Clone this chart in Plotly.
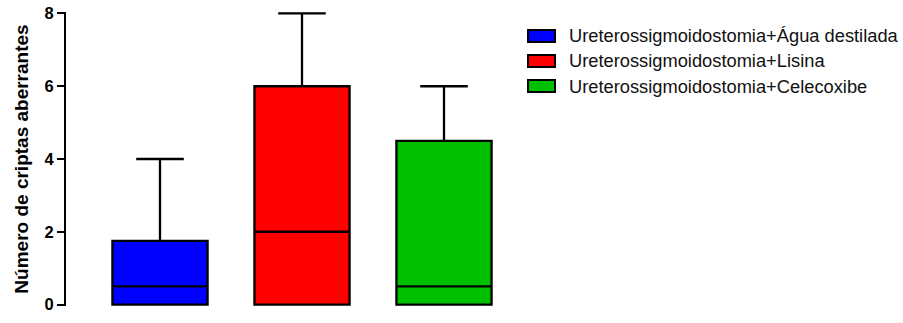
import plotly.graph_objects as go

# Summary statistics per treatment group (number of aberrant crypts)
groups = [
    "Ureterossigmoidostomia+Água destilada",
    "Ureterossigmoidostomia+Lisina",
    "Ureterossigmoidostomia+Celecoxibe",
]
positions = [0, 1, 2]
minimum = [0, 0, 0]
q1 = [0, 0, 0]
median = [0.5, 2, 0.5]
q3 = [1.75, 6, 4.5]
maximum = [4, 8, 6]
colors = ["#0000FF", "#FF0000", "#00C000"]
y_ticks = [0, 2, 4, 6, 8]

W, H = 903, 323
L, R, T, B = 66, 383, 12, 17
PW, PH = W - L - R, H - T - B
FONT = "Arial, Liberation Sans, sans-serif"


def px_x(p):
    return (p - L) / PW


def px_y(p):
    return 1 - (p - T) / PH


fig = go.Figure()
for i, name in enumerate(groups):
    fig.add_trace(go.Box(
        x=[positions[i]],
        q1=[q1[i]],
        median=[median[i]],
        q3=[q3[i]],
        lowerfence=[minimum[i]],
        upperfence=[maximum[i]],
        name=name,
        fillcolor=colors[i],
        line=dict(color="black", width=2.3),
        width=0.67,
        whiskerwidth=0.5,
        showlegend=False,
        hoverinfo="skip",
    ))

# Legend drawn as swatches and labels to the right of the plot
shapes = []
annotations = []
row_y = [36, 61, 86]
for i, name in enumerate(groups):
    cy = row_y[i]
    shapes.append(dict(
        type="rect", xref="paper", yref="paper",
        x0=px_x(528), x1=px_x(555), y0=px_y(cy + 6), y1=px_y(cy - 6),
        fillcolor=colors[i], line=dict(color="black", width=2),
    ))
    annotations.append(dict(
        text=name, xref="paper", yref="paper",
        x=px_x(567), y=px_y(cy), xanchor="left", yanchor="middle",
        showarrow=False, font=dict(family=FONT, size=18.3, color="#111"),
    ))

fig.update_layout(
    width=W, height=H,
    margin=dict(l=L, r=R, t=T, b=B),
    plot_bgcolor="white", paper_bgcolor="white",
    boxmode="overlay",
    shapes=shapes,
    annotations=annotations,
    xaxis=dict(
        range=[-(160 - L) / 142, (W - R - 160) / 142],
        showline=False, showgrid=False, zeroline=False,
        showticklabels=False, ticks="",
    ),
    yaxis=dict(
        range=[-0.04, 8.04],
        tickvals=y_ticks,
        ticktext=[str(v) for v in y_ticks],
        ticks="outside", ticklen=7, tickwidth=2, tickcolor="black",
        showline=True, linewidth=2, linecolor="black",
        showgrid=False, zeroline=False,
        tickfont=dict(family=FONT, size=16.5, color="black", weight="bold"),
        title=dict(
            text="Número de criptas aberrantes",
            font=dict(family=FONT, size=19, color="black", weight="bold"),
            standoff=11,
        ),
        automargin=False,
    ),
)

fig.write_html("out.html")
